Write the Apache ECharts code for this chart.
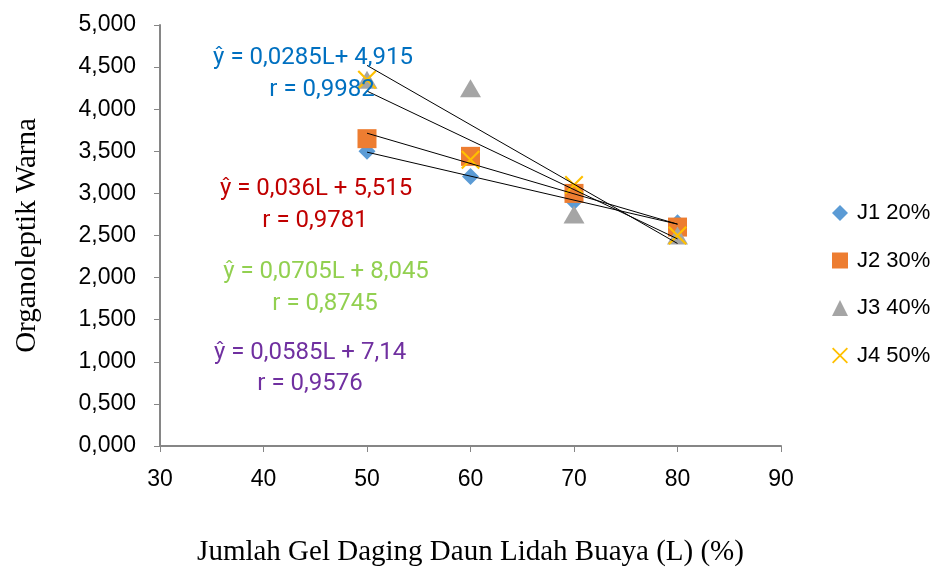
<!DOCTYPE html>
<html>
<head>
<meta charset="utf-8">
<script src="https://cdn.jsdelivr.net/npm/echarts@6/dist/echarts.min.js"></script>
<style>
  html, body { margin: 0; padding: 0; background: #fff; }
  #chart { width: 935px; height: 568px; }
</style>
</head>
<body>
<div id="chart"></div>
<script>
// values
var levels = [50, 60, 70, 80];
var j1 = [3.50, 3.20, 2.90, 2.65];
var j2 = [3.65, 3.44, 3.00, 2.60];
var j3 = [4.35, 4.25, 2.75, 2.50];
var j4 = [4.35, 3.40, 3.10, 2.50];
var seriesNames = ["J1 20%", "J2 30%", "J3 40%", "J4 50%"];
// trend line ends at L = 50 and L = 80
var trendX = [50, 80];
var trend1 = [3.49, 2.635];
var trend2 = [3.715, 2.635];
var trend3 = [4.52, 2.405];
var trend4 = [4.215, 2.46];
var equations = [
  ["ŷ = 0,0285L+ 4,915", "r = 0,9982"],
  ["ŷ = 0,036L + 5,515", "r = 0,9781"],
  ["ŷ = 0,0705L + 8,045", "r = 0,8745"],
  ["ŷ = 0,0585L + 7,14", "r = 0,9576"]
];

var colors = ["#5B9BD5", "#ED7D31", "#A5A5A5", "#FFC000"];
var eqColors = ["#0070C0", "#C00000", "#92D050", "#7030A0"];
var crossPath = "path://M0,0.8L0.8,0L10,9.2L9.2,10Z M9.2,0L10,0.8L0.8,10L0,9.2Z";
var symbols = ["diamond", "rect", "triangle", crossPath];
var sizes = [[17, 17], [19, 19], [21, 18], [19, 19]];
var tickFont = "Liberation Sans, Arial, sans-serif";

function pairs(xs, ys) {
  return xs.map(function (x, i) { return [x, ys[i]]; });
}

var pointSets = [j1, j2, j3, j4];
var trendSets = [trend1, trend2, trend3, trend4];

var series = pointSets.map(function (vals, i) {
  return {
    name: seriesNames[i],
    type: "scatter",
    data: pairs(levels, vals),
    symbol: symbols[i],
    symbolSize: sizes[i],
    itemStyle: { color: colors[i], opacity: 1 },
    z: 2 + i
  };
});
trendSets.forEach(function (t) {
  series.push({
    type: "line",
    data: pairs(trendX, t),
    symbol: "none",
    silent: true,
    lineStyle: { color: "#000", width: 1 },
    z: 10
  });
});

// equation texts (centre x, centre y for each line)
var eqPos = [[313, 58, 322, 90], [316, 189, 315, 221], [326, 272, 325, 304], [310, 353, 310, 384]];
var graphics = [];
equations.forEach(function (eq, i) {
  var p = eqPos[i];
  [0, 1].forEach(function (k) {
    graphics.push({
      type: "text", x: p[k * 2], y: p[k * 2 + 1], z: 20,
      style: { text: eq[k], fill: eqColors[i], font: "24px Roboto", textAlign: "center", textVerticalAlign: "middle" }
    });
  });
});

var chart = echarts.init(document.getElementById("chart"), null, { renderer: "canvas" });
chart.setOption({
  animation: false,
  grid: { left: 160, right: 154, top: 25, bottom: 122, containLabel: false, outerBoundsMode: "none" },
  xAxis: {
    type: "value",
    min: 30, max: 90, interval: 10,
    name: "Jumlah Gel Daging Daun Lidah Buaya (L) (%)",
    nameLocation: "middle",
    nameGap: 92,
    nameTextStyle: { fontFamily: "Liberation Serif", fontSize: 29, color: "#000" },
    axisLine: { show: true, lineStyle: { color: "#868686", width: 2 } },
    axisTick: { show: true, length: 6, lineStyle: { color: "#868686", width: 1 } },
    axisLabel: { fontFamily: tickFont, fontSize: 23, color: "#000", margin: 22 },
    splitLine: { show: false }
  },
  yAxis: {
    type: "value",
    min: 0, max: 5, interval: 0.5,
    name: "Organoleptik Warna",
    nameLocation: "middle",
    nameGap: 118,
    nameRotate: 90,
    nameTextStyle: { fontFamily: "Liberation Serif", fontSize: 29, color: "#000" },
    axisLine: { show: true, lineStyle: { color: "#868686", width: 2 } },
    axisTick: { show: true, length: 6, lineStyle: { color: "#868686", width: 1 } },
    axisLabel: {
      fontFamily: tickFont, fontSize: 23, color: "#000", margin: 24,
      formatter: function (v) { return v.toFixed(3).replace(".", ","); }
    },
    splitLine: { show: false }
  },
  legend: {
    data: seriesNames,
    orient: "vertical",
    left: 827,
    top: 197,
    itemWidth: 16,
    itemHeight: 16,
    itemGap: 25.5,
    textStyle: { fontFamily: tickFont, fontSize: 22, color: "#000", padding: [0, 0, 0, 4] }
  },
  graphic: graphics,
  series: series
});
</script>
</body>
</html>
